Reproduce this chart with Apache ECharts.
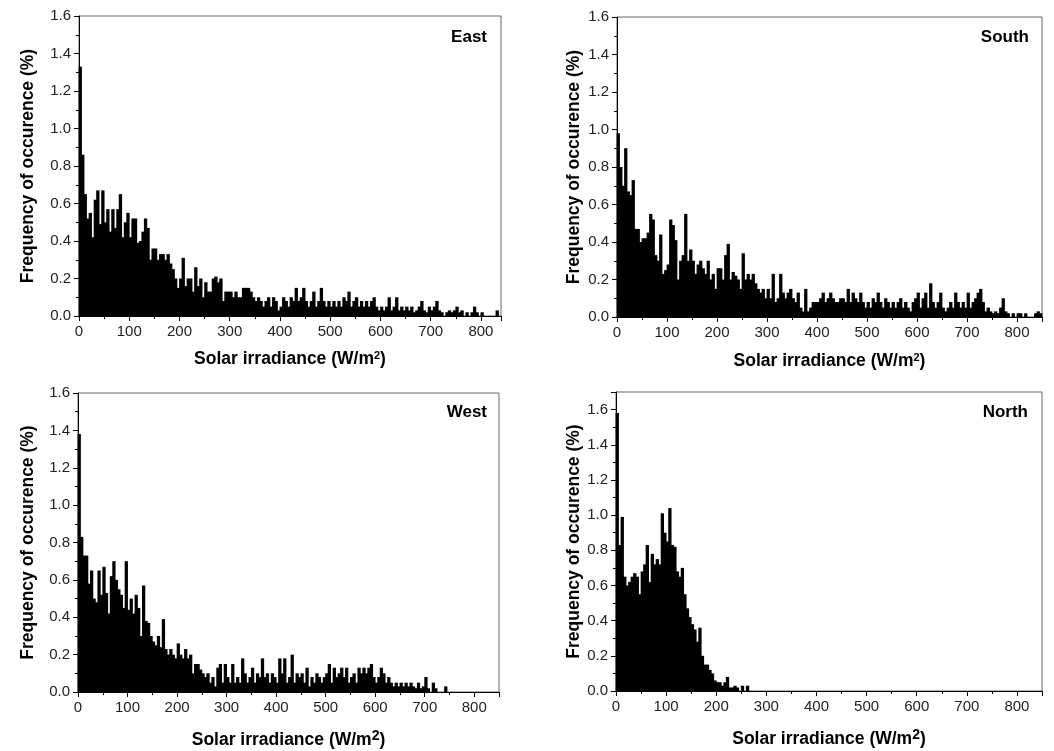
<!DOCTYPE html>
<html>
<head>
<meta charset="utf-8">
<script src="https://cdn.jsdelivr.net/npm/echarts@6/dist/echarts.min.js"></script>
<style>
html, body { margin: 0; padding: 0; background: #fff; }
#main { width: 1054px; height: 751px; }
</style>
</head>
<body>
<div id="main"></div>
<script>
// histogram bin width (W/m2); each array entry is one bin starting at 0
var BIN = 5;

var eastFreq = [
  1.33, 0.86, 0.65, 0.52, 0.55, 0.42, 0.62, 0.67, 0.49, 0.67,
  0.50, 0.57, 0.45, 0.57, 0.47, 0.57, 0.65, 0.42, 0.50, 0.55,
  0.42, 0.52, 0.52, 0.39, 0.40, 0.45, 0.52, 0.47, 0.30, 0.36,
  0.36, 0.30, 0.33, 0.33, 0.30, 0.33, 0.28, 0.25, 0.20, 0.15,
  0.20, 0.31, 0.16, 0.20, 0.20, 0.13, 0.26, 0.16, 0.20, 0.10,
  0.18, 0.13, 0.13, 0.20, 0.21, 0.18, 0.20, 0.08, 0.13, 0.13,
  0.13, 0.10, 0.13, 0.10, 0.10, 0.15, 0.15, 0.15, 0.13, 0.10,
  0.08, 0.10, 0.08, 0.05, 0.08, 0.10, 0.05, 0.10, 0.08, 0.03,
  0.05, 0.10, 0.08, 0.05, 0.10, 0.08, 0.15, 0.08, 0.10, 0.15,
  0.08, 0.05, 0.08, 0.13, 0.05, 0.08, 0.15, 0.08, 0.05, 0.08,
  0.05, 0.08, 0.05, 0.08, 0.05, 0.10, 0.08, 0.13, 0.05, 0.08,
  0.10, 0.05, 0.08, 0.05, 0.08, 0.05, 0.08, 0.10, 0.05, 0.03,
  0.05, 0.03, 0.05, 0.10, 0.03, 0.05, 0.10, 0.03, 0.05, 0.03,
  0.05, 0.03, 0.05, 0.02, 0.03, 0.05, 0.08, 0.03, 0.02, 0.05,
  0.03, 0.05, 0.08, 0.03, 0.02, 0.00, 0.02, 0.03, 0.02, 0.03,
  0.05, 0.02, 0.03, 0.00, 0.02, 0.00, 0.02, 0.05, 0.02, 0.00,
  0.02, 0.00, 0.00, 0.00, 0.00, 0.00, 0.03, 0.00
];

var southFreq = [
  0.98, 0.80, 0.70, 0.90, 0.67, 0.65, 0.73, 0.47, 0.47, 0.40,
  0.42, 0.42, 0.45, 0.55, 0.52, 0.33, 0.30, 0.44, 0.23, 0.25,
  0.28, 0.52, 0.49, 0.41, 0.20, 0.30, 0.33, 0.55, 0.30, 0.36,
  0.30, 0.23, 0.28, 0.30, 0.26, 0.23, 0.30, 0.20, 0.23, 0.15,
  0.26, 0.26, 0.20, 0.33, 0.39, 0.20, 0.24, 0.22, 0.20, 0.15,
  0.34, 0.20, 0.23, 0.20, 0.23, 0.18, 0.15, 0.13, 0.15, 0.10,
  0.15, 0.10, 0.23, 0.08, 0.10, 0.23, 0.13, 0.10, 0.13, 0.15,
  0.10, 0.08, 0.13, 0.05, 0.03, 0.15, 0.03, 0.05, 0.08, 0.08,
  0.08, 0.10, 0.13, 0.08, 0.10, 0.13, 0.10, 0.08, 0.08, 0.10,
  0.10, 0.08, 0.15, 0.08, 0.13, 0.10, 0.08, 0.13, 0.08, 0.05,
  0.08, 0.05, 0.10, 0.08, 0.13, 0.08, 0.05, 0.10, 0.08, 0.05,
  0.08, 0.05, 0.08, 0.10, 0.05, 0.08, 0.05, 0.03, 0.08, 0.10,
  0.13, 0.05, 0.10, 0.13, 0.05, 0.18, 0.08, 0.05, 0.08, 0.13,
  0.05, 0.03, 0.05, 0.08, 0.05, 0.13, 0.08, 0.05, 0.08, 0.05,
  0.13, 0.05, 0.08, 0.10, 0.13, 0.15, 0.08, 0.03, 0.05, 0.03,
  0.02, 0.03, 0.02, 0.05, 0.10, 0.03, 0.02, 0.00, 0.02, 0.00,
  0.02, 0.02, 0.00, 0.02, 0.00, 0.00, 0.00, 0.02, 0.03, 0.02
];

var westFreq = [
  1.38, 0.83, 0.73, 0.73, 0.58, 0.65, 0.50, 0.48, 0.65, 0.52,
  0.67, 0.53, 0.42, 0.62, 0.70, 0.60, 0.55, 0.52, 0.45, 0.70,
  0.44, 0.50, 0.42, 0.52, 0.45, 0.30, 0.57, 0.38, 0.37, 0.30,
  0.27, 0.25, 0.30, 0.24, 0.39, 0.23, 0.20, 0.23, 0.20, 0.18,
  0.26, 0.20, 0.18, 0.23, 0.18, 0.20, 0.10, 0.15, 0.15, 0.12,
  0.10, 0.08, 0.10, 0.05, 0.08, 0.03, 0.13, 0.15, 0.05, 0.15,
  0.08, 0.05, 0.15, 0.05, 0.08, 0.05, 0.18, 0.10, 0.05, 0.08,
  0.13, 0.05, 0.10, 0.08, 0.18, 0.08, 0.10, 0.05, 0.10, 0.08,
  0.05, 0.18, 0.10, 0.18, 0.05, 0.08, 0.20, 0.05, 0.10, 0.08,
  0.10, 0.05, 0.13, 0.03, 0.08, 0.05, 0.10, 0.08, 0.05, 0.08,
  0.10, 0.15, 0.05, 0.13, 0.08, 0.10, 0.13, 0.08, 0.13, 0.05,
  0.08, 0.10, 0.05, 0.13, 0.10, 0.13, 0.10, 0.13, 0.15, 0.08,
  0.05, 0.08, 0.13, 0.10, 0.05, 0.08, 0.05, 0.03, 0.05, 0.03,
  0.05, 0.03, 0.05, 0.03, 0.05, 0.03, 0.02, 0.05, 0.02, 0.03,
  0.08, 0.02, 0.00, 0.05, 0.02, 0.00, 0.00, 0.00, 0.03, 0.00
];

var northFreq = [
  1.58, 0.83, 0.99, 0.65, 0.60, 0.62, 0.65, 0.67, 0.65, 0.55,
  0.68, 0.72, 0.83, 0.62, 0.78, 0.72, 0.75, 0.72, 1.01, 0.90,
  0.85, 1.04, 0.83, 0.82, 0.68, 0.65, 0.70, 0.55, 0.47, 0.42,
  0.38, 0.35, 0.28, 0.36, 0.20, 0.15, 0.15, 0.12, 0.10, 0.06,
  0.05, 0.05, 0.03, 0.05, 0.08, 0.02, 0.02, 0.03, 0.02, 0.00,
  0.03, 0.00, 0.03
];

var panels = [
  { label: 'East',  data: eastFreq,  xMax: 840, yMax: 1.6,
    grid: { left: 79,  top: 16,  width: 422, height: 300 }, tag: { right: 567, top: 29 },  yGap: 42, xGap: 34, sup: 11 },
  { label: 'South', data: southFreq, xMax: 850, yMax: 1.6,
    grid: { left: 617, top: 17,  width: 425, height: 300 }, tag: { right: 25,  top: 29 },  yGap: 34, xGap: 35, sup: 11 },
  { label: 'West',  data: westFreq,  xMax: 850, yMax: 1.6,
    grid: { left: 78,  top: 393, width: 421, height: 299 }, tag: { right: 567, top: 404 }, yGap: 41, xGap: 37, sup: 14 },
  { label: 'North', data: northFreq, xMax: 850, yMax: 1.7,
    grid: { left: 616, top: 392, width: 426, height: 299 }, tag: { right: 26,  top: 404 }, yGap: 32, xGap: 37, sup: 14 }
];

var FONT = 'Liberation Sans';
var option = {
  animation: false,
  backgroundColor: '#fff',
  textStyle: { fontFamily: FONT },
  title: [], grid: [], xAxis: [], yAxis: [], series: []
};

panels.forEach(function(p, k) {
  var g = p.grid;
  option.grid.push({
    left: g.left, top: g.top, width: g.width, height: g.height,
    show: true, borderColor: '#666', borderWidth: 1
  });
  option.title.push({
    text: p.label, right: p.tag.right, top: p.tag.top, padding: 0,
    textStyle: { fontFamily: FONT, fontSize: 17, fontWeight: 'bold', color: '#000' }
  });
  option.xAxis.push({
    type: 'value', gridIndex: k, min: 0, max: p.xMax, interval: 100,
    name: 'Solar irradiance (W/m{s|2})', nameLocation: 'middle', nameGap: p.xGap,
    nameTextStyle: {
      fontFamily: FONT, fontSize: 17.5, fontWeight: 'bold', color: '#000',
      rich: { s: { fontFamily: FONT, fontSize: p.sup, fontWeight: 'bold', color: '#000', verticalAlign: 'top', padding: [0, 0, 8, 0] } }
    },
    axisLine: { show: true, onZero: false, lineStyle: { color: '#000', width: 1 } },
    axisTick: { show: true, inside: false, length: 5, lineStyle: { color: '#000' } },
    minorTick: { show: true, splitNumber: 2, length: 3, lineStyle: { color: '#000' } },
    splitLine: { show: false },
    axisLabel: {
      fontFamily: FONT, fontSize: 15, color: '#222', margin: 8, showMaxLabel: false,
      formatter: function(v) { return v % 100 === 0 ? String(v) : ''; }
    }
  });
  option.yAxis.push({
    type: 'value', gridIndex: k, min: 0, max: p.yMax, interval: 0.2,
    name: 'Frequency of occurence (%)', nameLocation: 'middle', nameGap: p.yGap,
    nameTextStyle: { fontFamily: FONT, fontSize: 17.5, fontWeight: 'bold', color: '#000' },
    axisLine: { show: true, onZero: false, lineStyle: { color: '#000', width: 1 } },
    axisTick: { show: true, inside: false, length: 5, lineStyle: { color: '#000' } },
    minorTick: { show: true, splitNumber: 2, length: 3, lineStyle: { color: '#000' } },
    splitLine: { show: false },
    axisLabel: {
      fontFamily: FONT, fontSize: 15, color: '#222', margin: 8,
      formatter: function(v) { return v > 1.61 ? '' : v.toFixed(1); }
    }
  });
  option.series.push({
    type: 'bar', xAxisIndex: k, yAxisIndex: k, silent: true,
    // slightly wider than one bin so neighbouring bars close up
    barWidth: g.width / p.xMax * BIN + 0.8,
    itemStyle: { color: '#000' },
    data: p.data.map(function(v, i) { return [i * BIN + BIN / 2, v]; })
  });
});

var myChart = echarts.init(document.getElementById('main'));
myChart.setOption(option);
</script>
</body>
</html>
